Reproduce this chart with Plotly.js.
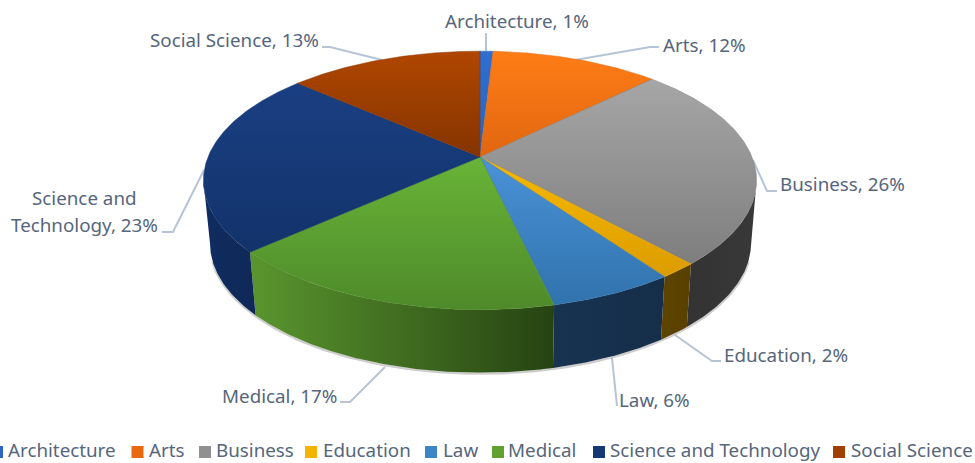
<!DOCTYPE html>
<html>
<head>
<meta charset="utf-8">
<script src="https://cdn.plot.ly/plotly-3.0.1.min.js"></script>
<style>html,body{margin:0;padding:0;background:#fff;overflow:hidden}#chart{width:975px;height:463px}</style>
</head>
<body>
<div id="chart"></div>
<script>
// ---- data ----
const categories = ["Architecture","Arts","Business","Education","Law","Medical","Science and Technology","Social Science"];
const shares = [0.9, 11.7, 25.6, 1.9, 6.2, 16.9, 23.1, 13.49];

// ---- styles ----
const topTop = ["#2f6fd0","#ff7d16","#a6a6a6","#f7ba00","#4a93d8","#69b437","#1a3f82","#b04600"];
const topBottom = ["#2a62ba","#e0660f","#7e7e7e","#dc9c00","#3072ac","#4e8a2a","#12326a","#843400"];
const sideLeft = ["#1c3f78","#8a4008","#333333","#5e4400","#173350","#5a962e","#102c60","#6a2a00"];
const sideRight = ["#1c3f78","#8a4008","#383838","#5a4000","#152e4a","#264312","#0f2858","#6a2a00"];
const legendKey = ["#2c66c4","#e8690f","#909090","#f2b400","#3d85c6","#5fa22f","#163873","#a04000"];

// geometry of the drawn disc
const cx = 480, cy = 157, A = 272, B = 125, P = 0.181, DEPTH = 63, SHRINK = 0.978;
function topPt(t){ const s=Math.sin(t),c=Math.cos(t),d=1+P*c; return [cx+A*s/d, cy-B*c/d]; }
function botPt(t){ const p=topPt(t); return [cx+0.5+(p[0]-cx)*SHRINK, p[1]+DEPTH]; }
function arc(a,b,fn){ const n=Math.max(2,Math.ceil(Math.abs(b-a)/0.01)),o=[]; for(let i=0;i<=n;i++) o.push(fn(a+(b-a)*i/n)); return o; }

const total = shares.reduce((a,b)=>a+b,0);
let run = 0;
const spans = shares.map(v=>{ const a=run/total*2*Math.PI; run+=v; return [a, run/total*2*Math.PI]; });

const traces = [];
// soft shadow below the disc
const shadow = arc(Math.PI*0.6, Math.PI*1.4, botPt);
traces.push({type:"scatter",mode:"lines",x:shadow.map(p=>p[0]),y:shadow.map(p=>p[1]+1),
  line:{color:"rgba(90,90,90,0.30)",width:2.5},hoverinfo:"skip",showlegend:false});

// side walls, clamped to the widest points of the disc
const LO = Math.acos(-P), HI = 2*Math.PI-LO;
spans.forEach((s,i)=>{
  const a=Math.max(s[0],LO), b=Math.min(s[1],HI);
  if(b<=a) return;
  const t=arc(a,b,topPt), u=arc(a,b,botPt).reverse(), pts=t.concat(u);
  pts.push(pts[0]);
  traces.push({type:"scatter",mode:"lines",name:categories[i],x:pts.map(p=>p[0]),y:pts.map(p=>p[1]),
    fill:"toself",line:{width:0,color:sideRight[i]},
    fillcolor:sideRight[i],
    fillgradient:{type:"horizontal",colorscale:[[0,sideLeft[i]],[1,sideRight[i]]]},
    hoverinfo:"skip",showlegend:false});
});

// top faces
spans.forEach((s,i)=>{
  const pts=[[cx,cy]].concat(arc(s[0],s[1],topPt)); pts.push([cx,cy]);
  traces.push({type:"scatter",mode:"lines",name:categories[i],x:pts.map(p=>p[0]),y:pts.map(p=>p[1]),
    fill:"toself",line:{width:0.5,color:topBottom[i]},
    fillcolor:topTop[i],
    fillgradient:{type:"vertical",colorscale:[[0,topBottom[i]],[1,topTop[i]]]},
    hoverinfo:"skip",showlegend:false});
});

// legend keys
const legendKeyX = [-3,137.5,205,311,431,498,599,839];
const legendTextX = [8,149,216,323,443,508,610,851];
traces.push({type:"scatter",mode:"markers",x:legendKeyX,y:categories.map(()=>452),
  marker:{symbol:"square",size:12,color:legendKey,line:{width:0}},hoverinfo:"skip",showlegend:false,cliponaxis:true});

const FONT = "'Noto Sans', 'Open Sans', sans-serif", INK = "#56667c", SIZE = 18.8;
const annotations = [];
function note(text,x,y,anchor){
  annotations.push({text:text,x:x,y:y,xref:"x",yref:"y",xanchor:anchor,yanchor:"middle",showarrow:false,
    font:{family:FONT,size:SIZE,color:INK},borderpad:0,borderwidth:0});
}
const pct = shares.map(v=>Math.round(v)+"%");
note(categories[0]+", "+pct[0],445,21,"left");
note(categories[1]+", "+pct[1],663,45,"left");
note(categories[2]+", "+pct[2],780,184,"left");
note(categories[3]+", "+pct[3],724,355,"left");
note(categories[4]+", "+pct[4],619,400,"left");
note(categories[5]+", "+pct[5],337,396,"right");
note("Science and",84,198,"center");
note("Technology, "+pct[6],84,225,"center");
note(categories[7]+", "+pct[7],319,40,"right");
categories.forEach((c,i)=>note(c,legendTextX[i],450,"left"));

// leader lines
const leaders = [
 "M486,51 L486,33",
 "M575,60 L650,47 L659,47",
 "M753,160 L767,191 L777,191",
 "M675,335 L712,361 L721,361",
 "M612,358 L617,406",
 "M385,367 L350,402 L340,402",
 "M204,170 L173,232 L162,232",
 "M382,60 L330,47 L322,47"
];
const shapes = leaders.map(d=>({type:"path",path:d,xref:"x",yref:"y",layer:"below",line:{color:"#b6c4d6",width:2}}));

Plotly.newPlot("chart",traces,{
  width:975,height:463,
  margin:{l:0,r:0,t:0,b:0},
  paper_bgcolor:"#ffffff",plot_bgcolor:"#ffffff",
  showlegend:false,
  xaxis:{range:[0,975],visible:false,fixedrange:true},
  yaxis:{range:[463,0],visible:false,fixedrange:true},
  annotations:annotations,shapes:shapes
},{staticPlot:true,displayModeBar:false});
</script>
</body>
</html>
